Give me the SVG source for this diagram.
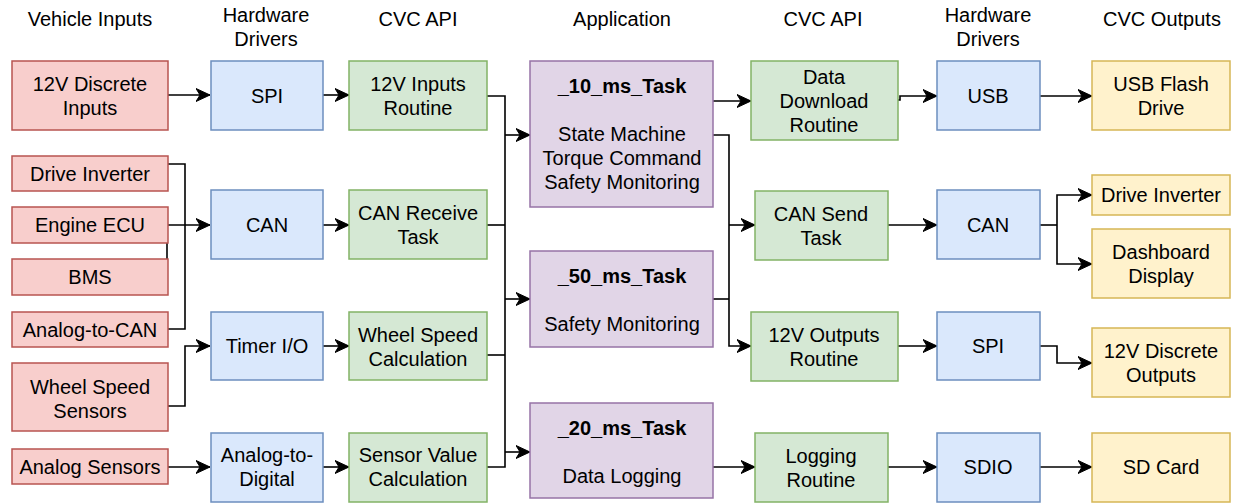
<svg xmlns="http://www.w3.org/2000/svg" width="1238" height="503" viewBox="0 0 1238 503">
  <style>
    text { font-family: "Liberation Sans", Arial, sans-serif; font-size: 20px; fill: #000; text-anchor: middle; }
    .b { font-weight: bold; }
    rect { stroke-width: 1.5; }
    .in { fill: #f8cecc; stroke: #b85450; }
    .hw { fill: #dae8fc; stroke: #6c8ebf; }
    .api { fill: #d5e8d4; stroke: #82b366; }
    .app { fill: #e1d5e7; stroke: #9673a6; }
    .out { fill: #fff2cc; stroke: #d6b656; }
    .edges path { fill: none; stroke: #000; stroke-width: 1.6; }
    .edges path.a { marker-end: url(#arrow); }
  </style>
  <defs>
    <marker id="arrow" markerUnits="userSpaceOnUse" markerWidth="16" markerHeight="14" refX="14" refY="7" orient="auto">
      <path d="M14,7 L0,0.5 L4,7 L0,13.5 Z" fill="#000" stroke="#000" stroke-width="1"/>
    </marker>
  </defs>
  <rect width="1238" height="503" fill="#fff"/>

  <!-- column headers -->
  <g id="headers">
    <text x="90" y="26">Vehicle Inputs</text>
    <text x="266" y="22">Hardware</text>
    <text x="266" y="46">Drivers</text>
    <text x="418" y="26">CVC API</text>
    <text x="622" y="26">Application</text>
    <text x="823" y="26">CVC API</text>
    <text x="988" y="22">Hardware</text>
    <text x="988" y="46">Drivers</text>
    <text x="1162" y="26">CVC Outputs</text>
  </g>

  <!-- connectors -->
  <g id="connectors" class="edges">
    <path class="a" d="M168,95 H210"/>
    <path class="a" d="M323,95 H349"/>
    <path d="M168,164 H185 V225"/>
    <path d="M168,329 H185 V225"/>
    <path d="M167,259 V225"/>
    <path class="a" d="M168,225 H210"/>
    <path class="a" d="M323,225 H349"/>
    <path class="a" d="M168,406 H185 V346 H210"/>
    <path class="a" d="M323,346 H349"/>
    <path class="a" d="M168,467 H210"/>
    <path class="a" d="M323,467 H349"/>

    <path d="M487,96 H505 V467 H487"/>
    <path d="M487,225 H505"/>
    <path d="M487,355 H505"/>
    <path class="a" d="M505,135 H530"/>
    <path class="a" d="M505,299 H530"/>
    <path class="a" d="M505,452 H530"/>

    <path class="a" d="M713,101 H751"/>
    <path class="a" d="M713,135 H729 V346 H751"/>
    <path class="a" d="M729,225 H755"/>
    <path d="M713,299 H729"/>
    <path class="a" d="M713,467 H755"/>

    <path class="a" d="M898,100 H900 V96 H937"/>
    <path class="a" d="M888,225 H937"/>
    <path class="a" d="M898,346 H937"/>
    <path class="a" d="M888,467 H937"/>

    <path class="a" d="M1040,96 H1092"/>
    <path d="M1040,225 H1057"/>
    <path class="a" d="M1057,225 V195 H1092"/>
    <path class="a" d="M1057,225 V264 H1092"/>
    <path class="a" d="M1040,346 H1057 V363 H1092"/>
    <path class="a" d="M1040,467 H1092"/>
  </g>

  <!-- vehicle inputs -->
  <g id="in-12v"><rect class="in" x="12" y="61" width="156" height="69"/><text x="90" y="91">12V Discrete</text><text x="90" y="115">Inputs</text></g>
  <g id="in-drive-inverter"><rect class="in" x="12" y="156" width="156" height="35"/><text x="90" y="181">Drive Inverter</text></g>
  <g id="in-engine-ecu"><rect class="in" x="12" y="207" width="156" height="36"/><text x="90" y="232">Engine ECU</text></g>
  <g id="in-bms"><rect class="in" x="12" y="259" width="156" height="36"/><text x="90" y="284">BMS</text></g>
  <g id="in-analog-can"><rect class="in" x="12" y="312" width="156" height="35"/><text x="90" y="337">Analog-to-CAN</text></g>
  <g id="in-wheel-speed"><rect class="in" x="12" y="363" width="156" height="68"/><text x="90" y="394">Wheel Speed</text><text x="90" y="418">Sensors</text></g>
  <g id="in-analog-sensors"><rect class="in" x="12" y="449" width="156" height="35"/><text x="90" y="474">Analog Sensors</text></g>

  <!-- hardware drivers (input side) -->
  <g id="hw-spi-in"><rect class="hw" x="211" y="61" width="112" height="69"/><text x="267" y="103">SPI</text></g>
  <g id="hw-can-in"><rect class="hw" x="211" y="190" width="112" height="69"/><text x="267" y="232">CAN</text></g>
  <g id="hw-timer"><rect class="hw" x="211" y="312" width="112" height="68"/><text x="267" y="353">Timer I/O</text></g>
  <g id="hw-adc"><rect class="hw" x="211" y="433" width="112" height="69"/><text x="267" y="462">Analog-to-</text><text x="267" y="486">Digital</text></g>

  <!-- CVC API (input side) -->
  <g id="api-12v-in"><rect class="api" x="349" y="61" width="138" height="69"/><text x="418" y="91">12V Inputs</text><text x="418" y="115">Routine</text></g>
  <g id="api-can-rx"><rect class="api" x="349" y="190" width="138" height="69"/><text x="418" y="220">CAN Receive</text><text x="418" y="244">Task</text></g>
  <g id="api-wheel-speed"><rect class="api" x="349" y="312" width="138" height="68"/><text x="418" y="342">Wheel Speed</text><text x="418" y="366">Calculation</text></g>
  <g id="api-sensor-value"><rect class="api" x="349" y="433" width="138" height="69"/><text x="418" y="462">Sensor Value</text><text x="418" y="486">Calculation</text></g>

  <!-- application tasks -->
  <g id="task-10ms"><rect class="app" x="530" y="61" width="183" height="146"/><text class="b" x="622" y="93">_10_ms_Task</text><text x="622" y="141">State Machine</text><text x="622" y="165">Torque Command</text><text x="622" y="189">Safety Monitoring</text></g>
  <g id="task-50ms"><rect class="app" x="530" y="251" width="183" height="96"/><text class="b" x="622" y="283">_50_ms_Task</text><text x="622" y="331">Safety Monitoring</text></g>
  <g id="task-20ms"><rect class="app" x="530" y="403" width="183" height="95"/><text class="b" x="622" y="435">_20_ms_Task</text><text x="622" y="483">Data Logging</text></g>

  <!-- CVC API (output side) -->
  <g id="api-download"><rect class="api" x="751" y="61" width="147" height="79"/><text x="824" y="84">Data</text><text x="824" y="108">Download</text><text x="824" y="132">Routine</text></g>
  <g id="api-can-tx"><rect class="api" x="755" y="191" width="133" height="69"/><text x="821" y="221">CAN Send</text><text x="821" y="245">Task</text></g>
  <g id="api-12v-out"><rect class="api" x="751" y="312" width="147" height="69"/><text x="824" y="342">12V Outputs</text><text x="824" y="366">Routine</text></g>
  <g id="api-logging"><rect class="api" x="755" y="433" width="133" height="69"/><text x="821" y="463">Logging</text><text x="821" y="487">Routine</text></g>

  <!-- hardware drivers (output side) -->
  <g id="hw-usb"><rect class="hw" x="937" y="61" width="103" height="69"/><text x="988" y="103">USB</text></g>
  <g id="hw-can-out"><rect class="hw" x="937" y="190" width="103" height="69"/><text x="988" y="232">CAN</text></g>
  <g id="hw-spi-out"><rect class="hw" x="937" y="312" width="103" height="68"/><text x="988" y="353">SPI</text></g>
  <g id="hw-sdio"><rect class="hw" x="937" y="433" width="103" height="69"/><text x="988" y="474">SDIO</text></g>

  <!-- CVC outputs -->
  <g id="out-usb-flash"><rect class="out" x="1092" y="61" width="138" height="69"/><text x="1161" y="91">USB Flash</text><text x="1161" y="115">Drive</text></g>
  <g id="out-drive-inverter"><rect class="out" x="1092" y="175" width="138" height="40"/><text x="1161" y="202">Drive Inverter</text></g>
  <g id="out-dashboard"><rect class="out" x="1092" y="229" width="138" height="69"/><text x="1161" y="259">Dashboard</text><text x="1161" y="283">Display</text></g>
  <g id="out-12v"><rect class="out" x="1092" y="328" width="138" height="69"/><text x="1161" y="358">12V Discrete</text><text x="1161" y="382">Outputs</text></g>
  <g id="out-sd-card"><rect class="out" x="1092" y="433" width="138" height="69"/><text x="1161" y="474">SD Card</text></g>
</svg>
